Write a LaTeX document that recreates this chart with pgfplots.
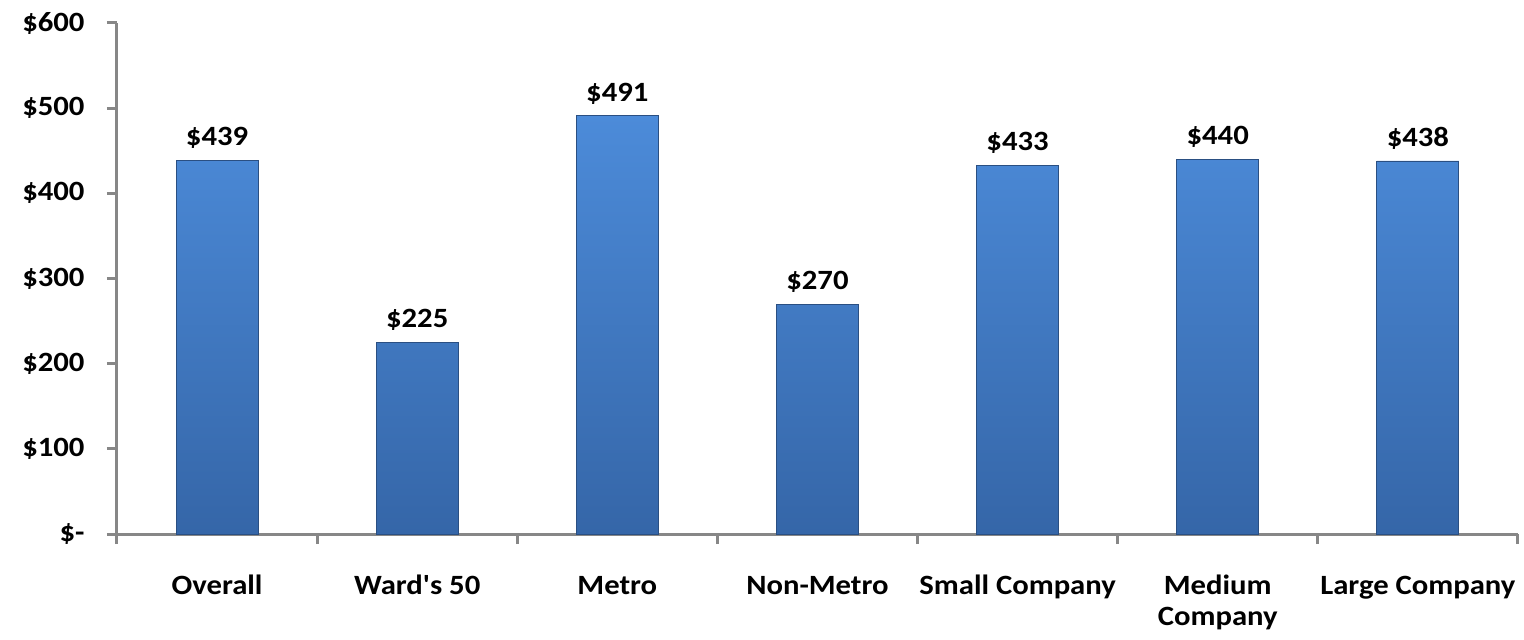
\documentclass[border=0pt]{standalone}
\usepackage{pgfplots}
\pgfplotsset{compat=1.18}
\usepackage{fontspec}
\setmainfont{Carlito}
\newfontfamily\carl{Carlito}[FakeStretch=1.1]
\definecolor{axgray}{HTML}{878787}
\definecolor{bartop}{HTML}{4C8BD9}
\definecolor{barbot}{HTML}{3566A8}
\definecolor{baredge}{HTML}{2A4F82}
\begin{document}
\begin{tikzpicture}
\useasboundingbox (-117bp,-106bp) rectangle (1407bp,534bp);
\begin{axis}[
  at={(0,0)}, anchor=south west,
  scale only axis, width=1401bp, height=511bp,
  xmin=-0.5, xmax=6.5, ymin=0, ymax=600,
  axis x line*=bottom, axis y line*=left,
  axis line style={draw=axgray, line width=3bp},
  x axis line style={draw=axgray, line width=3bp},
  y axis line style={draw=axgray, line width=3bp},
  every tick/.style={draw=axgray, line width=3bp},
  tick align=outside, major tick length=10bp,
  ytick={0,100,...,600},
  yticklabels={\$-,\$100,\$200,\$300,\$400,\$500,\$600},
  xtick={-0.5,0.5,...,6.5},
  x tick label as interval,
  xticklabels={\strut Overall,\strut Ward's 50,\strut Metro,\strut Non-Metro,\strut Small Company,{\strut Medium\\Company},\strut Large Company},
  every tick label/.append style={font=\carl\bfseries\fontsize{28}{31}\selectfont, text=black},
  xticklabel style={align=center, anchor=north, yshift=-25bp},
  yticklabel style={anchor=east, xshift=-19bp},
  nodes near coords={\$\pgfmathprintnumber[assume math mode=true]{\pgfplotspointmeta}},
  every node near coord/.append style={font=\carl\bfseries\fontsize{28}{31}\selectfont, text=black, anchor=south, yshift=8bp},
  clip=false,
]
\addplot[ybar, bar width=0.41, draw=baredge, line width=0.8bp, top color=bartop, bottom color=barbot]
  coordinates {(0,439) (1,225) (2,491) (3,270) (4,433) (5,440) (6,438)};
\end{axis}
\end{tikzpicture}
\end{document}
